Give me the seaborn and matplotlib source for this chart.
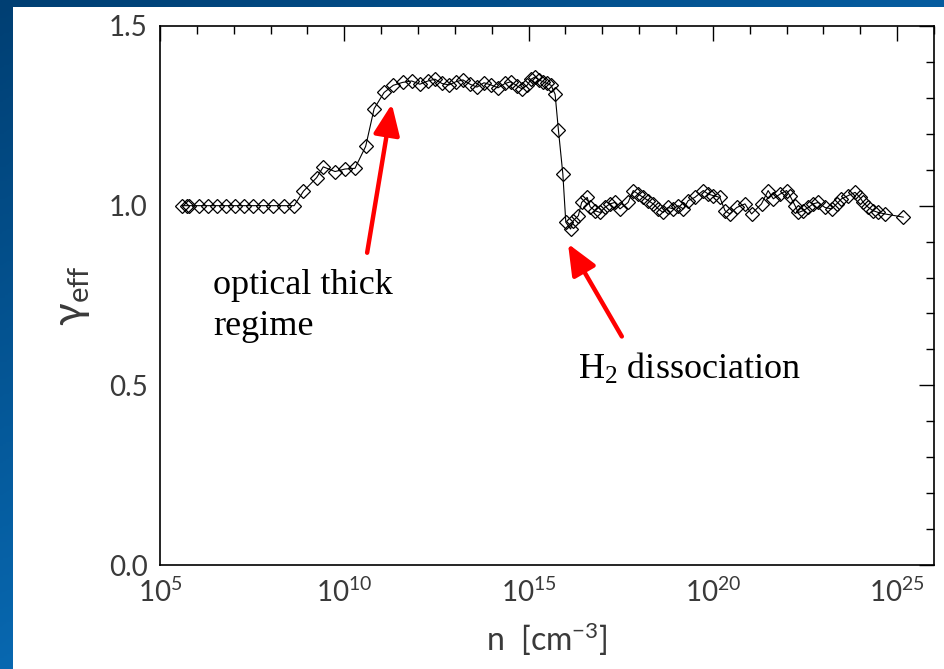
import numpy as np
import pandas as pd
import matplotlib
matplotlib.use("Agg")
import matplotlib.pyplot as plt
from matplotlib.patches import Rectangle
from matplotlib.colors import LinearSegmentedColormap
from matplotlib.ticker import FixedLocator, MultipleLocator, NullFormatter
import seaborn as sns

# log10 of number density n [cm^-3] along the collapse track
log_density = [
    5.59, 5.72, 5.80, 6.07, 6.31, 6.56, 6.79, 7.04, 7.28, 7.53, 7.80, 8.06,
    8.36, 8.64,
    8.89, 9.25, 9.43, 9.75, 10.02, 10.29, 10.58, 10.81, 11.08, 11.33, 11.58,
    11.83, 12.05,
    12.27, 12.46, 12.65, 12.84, 13.03, 13.22, 13.41, 13.60, 13.79, 13.98,
    14.17, 14.36, 14.52, 14.69, 14.82, 14.96, 15.07, 15.17, 15.28, 15.39,
    15.50, 15.61, 15.72,
    15.81, 15.93, 16.01, 16.14, 16.21, 16.35, 16.44, 16.59, 16.67, 16.80,
    16.94, 17.07, 17.21, 17.34, 17.48, 17.70, 17.84, 17.98, 18.11, 18.25,
    18.38, 18.52, 18.65, 18.79, 18.93, 19.06, 19.20, 19.33, 19.51, 19.74,
    19.88, 20.01, 20.19, 20.33, 20.46, 20.65, 20.87, 21.05, 21.32, 21.50,
    21.64, 21.82, 22.00, 22.09, 22.23, 22.32, 22.45, 22.59, 22.72, 22.86,
    23.04, 23.22, 23.36, 23.49, 23.67, 23.86, 23.99, 24.08, 24.22, 24.35,
    24.49, 24.67, 25.17,
]

# effective adiabatic index gamma_eff at each density
gamma_eff = [
    1.000, 1.000, 1.000, 1.000, 1.000, 1.000, 1.000, 1.000, 1.000, 1.000,
    1.000, 1.000, 1.000, 1.000,
    1.040, 1.078, 1.108, 1.095, 1.102, 1.104, 1.165, 1.270, 1.315, 1.335,
    1.343, 1.347, 1.338,
    1.347, 1.352, 1.340, 1.336, 1.345, 1.350, 1.338, 1.330, 1.342, 1.336,
    1.328, 1.340, 1.345, 1.333, 1.325, 1.335, 1.352, 1.358, 1.350, 1.345,
    1.340, 1.335, 1.310,
    1.210, 1.088, 0.954, 0.935, 0.958, 0.972, 1.009, 1.023, 0.997, 0.986,
    0.981, 0.995, 1.005, 1.009, 0.991, 1.009, 1.042, 1.032, 1.023, 1.014,
    1.005, 0.991, 0.981, 0.995, 0.991, 1.000, 0.991, 1.014, 1.023, 1.042,
    1.032, 1.028, 1.023, 0.986, 0.977, 0.995, 1.005, 0.977, 1.005, 1.042,
    1.019, 1.032, 1.042, 1.028, 1.000, 0.981, 0.986, 0.995, 1.005, 1.009,
    0.995, 0.991, 1.005, 1.019, 1.028, 1.037, 1.023, 1.009, 0.995, 0.986,
    0.981, 0.977, 0.968,
]

x_major_exponents = [5, 10, 15, 20, 25]
y_major_ticks = [0.0, 0.5, 1.0, 1.5]
y_tick_labels = ["0.0", "0.5", "1.0", "1.5"]

sns.set_style("white")
plt.rcParams["font.family"] = ["Lato", "DejaVu Sans"]
plt.rcParams["mathtext.default"] = "regular"
for key in ["text.color", "axes.labelcolor", "xtick.color", "ytick.color",
            "axes.edgecolor"]:
    plt.rcParams[key] = "black"

W, H = 944, 669
fig = plt.figure(figsize=(W / 100, H / 100), dpi=100)

# slide background: blue gradient frame with a white panel
bg = fig.add_axes([0, 0, 1, 1], zorder=-10)
gx, gy = np.meshgrid(np.linspace(0, 1, 300), np.linspace(0, 1, 300))
shade = np.clip(0.55 * gx + 0.75 * gy, 0, 1)
cmap = LinearSegmentedColormap.from_list("frame", ["#003f73", "#0a75c4"])
bg.imshow(shade, cmap=cmap, extent=[0, 1, 0, 1], aspect="auto", origin="upper")
bg.add_patch(Rectangle((13 / W, 0), 1 - 13 / W, 1 - 7 / H,
                       transform=bg.transAxes, facecolor="white", edgecolor="none"))
bg.set_axis_off()

ax = fig.add_axes([160 / W, 104 / H, 774 / W, 539 / H])
ax.set_facecolor("white")

df = pd.DataFrame({"n": 10.0 ** np.array(log_density), "gamma": gamma_eff})
sns.lineplot(data=df, x="n", y="gamma", ax=ax, estimator=None, sort=False,
             color="black", lw=0.8, marker="D", ms=7, mfc="none",
             mec="black", mew=0.9)

ax.set_xscale("log")
ax.set_xlim(1e5, 1e26)
ax.set_ylim(0.0, 1.5)

label_color = "#3a3a3a"
ax.set_xticks([10.0 ** k for k in x_major_exponents],
              [f"10$^{{{k}}}$" for k in x_major_exponents],
              fontsize=20, fontweight="normal")
ax.xaxis.set_minor_locator(FixedLocator([10.0 ** k for k in range(5, 27)]))
ax.xaxis.set_minor_formatter(NullFormatter())
ax.set_yticks(y_major_ticks, y_tick_labels, fontsize=20, fontweight="normal")
ax.yaxis.set_minor_locator(MultipleLocator(0.1))

ax.tick_params(which="both", direction="in", top=True, right=True,
               width=1.0, color="black", labelcolor=label_color)
ax.tick_params(which="major", length=11, pad=9)
ax.tick_params(which="minor", length=6)
for s in ax.spines.values():
    s.set_linewidth(1.2)
    s.set_color("black")

ax.set_xlabel("n  [cm$^{-3}$]", fontsize=23, fontweight="normal",
              labelpad=10, color=label_color)
ax.set_ylabel(r"$\gamma_{eff}$", fontsize=30, fontweight="normal",
              labelpad=12, color=label_color)

# annotations
serif = ["Liberation Serif", "DejaVu Serif"]
ax.text(10 ** 6.44, 0.755, "optical thick", family=serif, fontsize=26,
        va="baseline", ha="left", color="black")
ax.text(10 ** 6.44, 0.640, "regime", family=serif, fontsize=26,
        va="baseline", ha="left", color="black")
ax.text(10 ** 16.34, 0.519, "H$_2$ dissociation", family=serif, fontsize=26,
        va="baseline", ha="left", color="black")

arrow = dict(arrowstyle="-|>,head_length=0.75,head_width=0.32", lw=3.2,
             color="#ff0000", mutation_scale=25, shrinkA=0, shrinkB=0)
ax.annotate("", xy=(10 ** 11.29, 1.283), xytext=(10 ** 10.62, 0.869),
            arrowprops=arrow)
ax.annotate("", xy=(10 ** 16.07, 0.894), xytext=(10 ** 17.53, 0.636),
            arrowprops=arrow)

fig.savefig("out.png", dpi=100)
